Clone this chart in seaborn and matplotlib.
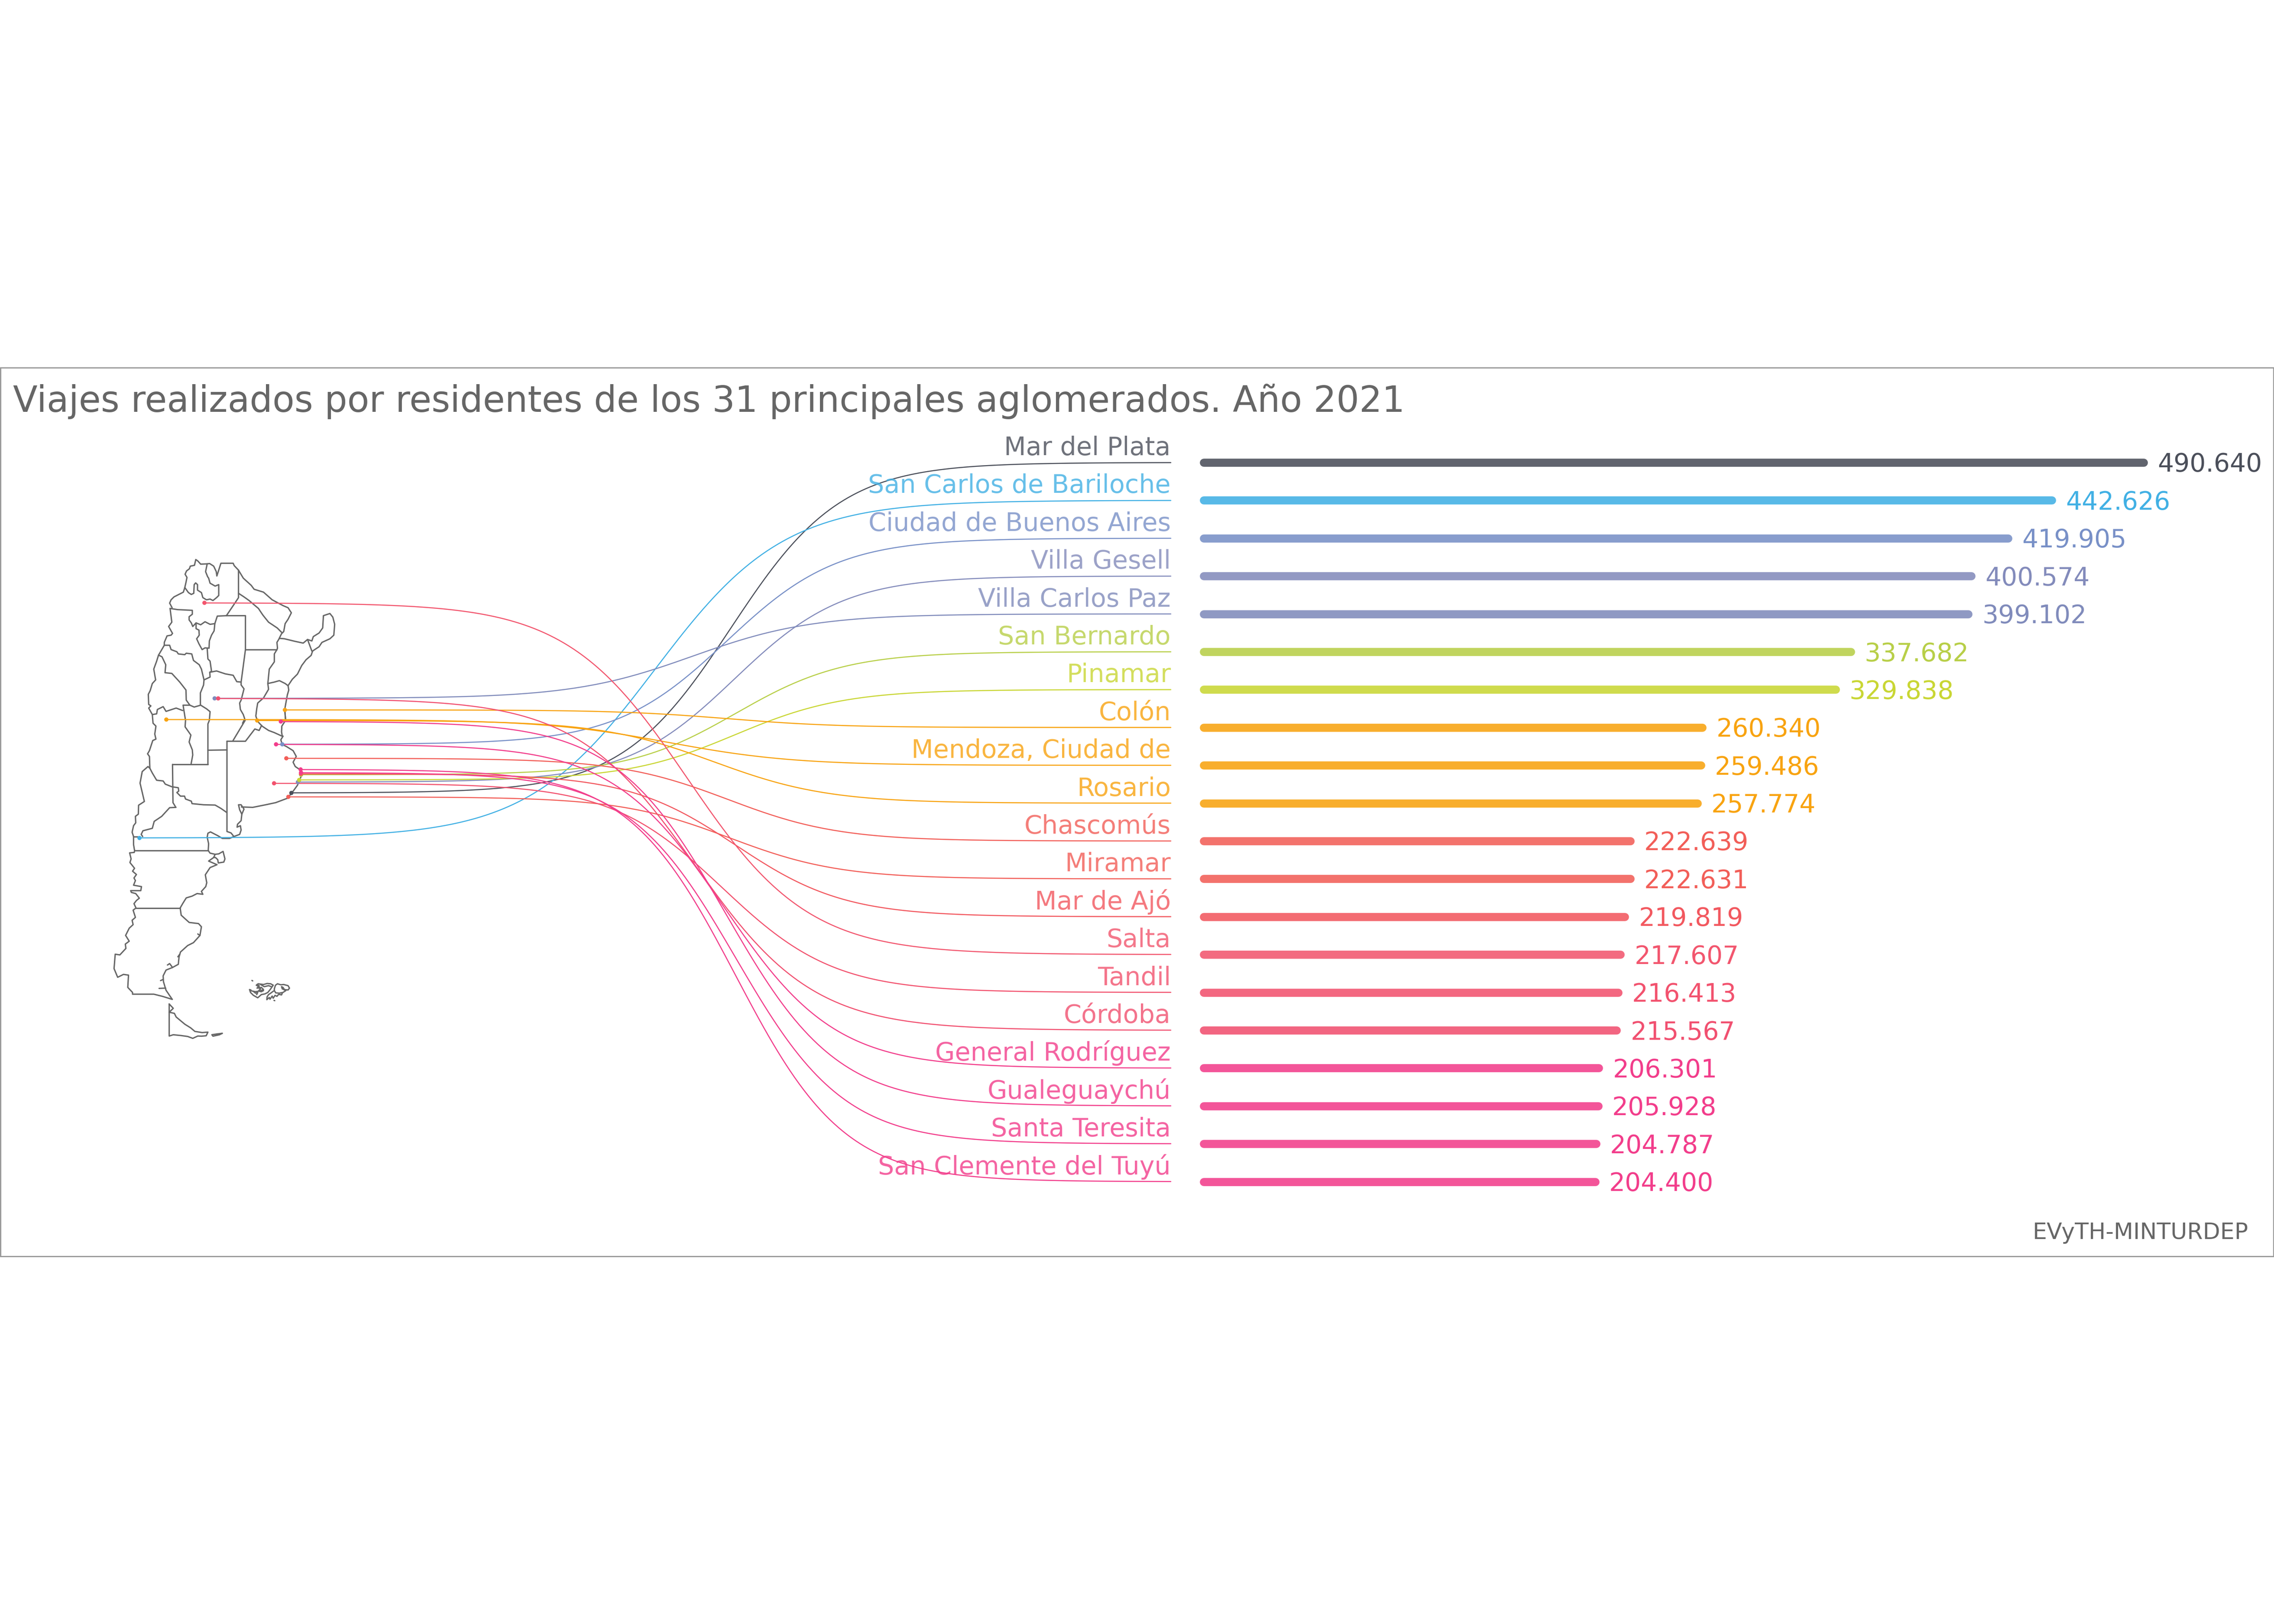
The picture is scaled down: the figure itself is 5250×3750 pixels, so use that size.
import numpy as np
import pandas as pd
import matplotlib
matplotlib.use('Agg')
import matplotlib.pyplot as plt
from matplotlib.patches import Rectangle
import seaborn as sns

# chart values
AGLOMERADOS = ['Mar del Plata', 'San Carlos de Bariloche', 'Ciudad de Buenos Aires', 'Villa Gesell',
               'Villa Carlos Paz', 'San Bernardo', 'Pinamar', 'Colón', 'Mendoza, Ciudad de', 'Rosario',
               'Chascomús', 'Miramar', 'Mar de Ajó', 'Salta', 'Tandil', 'Córdoba', 'General Rodríguez',
               'Gualeguaychú', 'Santa Teresita', 'San Clemente del Tuyú']
VIAJES = [490640, 442626, 419905, 400574, 399102, 337682, 329838, 260340, 259486, 257774,
          222639, 222631, 219819, 217607, 216413, 215567, 206301, 205928, 204787, 204400]
COLORES = ['#4b4f5a', '#41b0e4', '#7890c7', '#838bbb', '#808bbb', '#b8cf48', '#c9d634', '#f8a310', '#f8a310',
           '#f8a310', '#f25e58', '#f25e58', '#f2585f', '#f2566e', '#f2526e', '#f15070', '#f23d8b', '#f23d8b',
           '#f23d8b', '#f23d8b']
# where each city sits on the map, picture pixels
CIUDAD_X = [672.7, 322, 651.7, 687.7, 495.5, 695, 690.7, 657.7, 384, 593.7,
            661, 665.7, 695, 472, 632.7, 503.7, 637.3, 648.3, 695, 694]
CIUDAD_Y = [1831, 1935, 1718.7, 1806, 1612.6, 1789, 1801, 1639.3, 1661.5, 1663.7,
            1751, 1840, 1787, 1392, 1808.7, 1612.7, 1718.7, 1666, 1784, 1776.7]

TITULO = 'Viajes realizados por residentes de los 31 principales aglomerados. Año 2021'
FUENTE = 'EVyTH-MINTURDEP'

# map outlines, one list per traced crop
MAPA_NORTE = [
    [(380,260),(388,225),(395,190),(382,168),(392,145),(412,130),(418,112),(447,106),(456,66),(470,76),(490,98),(535,96),(552,94),(580,112),(598,150),(602,180),(630,92),(715,92),(722,108),(752,140)],
    [(752,140),(752,300),(752,330),(722,375),(668,455)],
    [(535,96),(524,150),(538,185),(545,195),(555,230),(590,250),(615,240),(615,315),(600,330),(575,350),(555,340),(530,345),(505,330),(495,295),(468,278),(468,240),(455,228),(445,240),(442,300),(425,308),(405,295),(380,260)],
    [(380,260),(370,292),(305,325),(285,345),(275,368),(292,400)],
    [(278,405),(330,413),(432,418),(432,445),(410,462),(410,485),(425,505),(435,530),(458,505),(490,518),(520,497),(555,515),(588,510)],
    [(668,455),(605,458),(588,510),(583,560),(565,590),(550,630),(548,680),(520,678),(500,690),(478,650),(462,615),(480,590),(478,555),(458,545),(458,505)],
    [(278,405),(290,500),(268,530),(295,578),(285,590),(257,595),(238,640),(238,660)],
    [(238,660),(275,660),(285,690),(325,705),(335,720),(380,725),(390,715),(428,720),(440,765),(480,795),(495,825),(513,900)],
    [(535,680),(540,755),(555,770),(565,840),(553,847)],
    [(553,847),(600,838),(660,858),(715,868),(740,912),(770,915)],
    [(553,847),(555,880),(513,900),(510,935),(488,990),(488,1075)],
    [(668,455),(800,455),(800,690),(770,915),(770,935),(790,962),(770,1040),(760,1060),(765,1105),(785,1140),(795,1170),(780,1200)],
    [(800,690),(1018,690)],
    [(752,140),(785,195),(840,245),(860,272),(925,292),(985,345),(1060,385),(1095,400),(1118,435),(1095,480),(1075,510),(1065,565),(1050,580),(1035,610)],
    [(752,300),(790,325),(825,350),(890,405),(920,450),(960,500),(990,520),(1020,540),(1055,575)],
    [(1035,612),(1070,615),(1140,632),(1200,645),(1230,620),(1260,700)],
    [(1230,620),(1260,630),(1270,600),(1310,575),(1335,540),(1340,455),(1385,440),(1405,465),(1418,515),(1412,590),(1385,615),(1330,640),(1310,670),(1265,700)],
    [(1265,700),(1255,730),(1220,760),(1190,800),(1160,860),(1125,895),(1095,940),(1100,970),(1090,1005),(1080,1060),(1072,1105),(1078,1180)],
    [(1035,612),(1018,640),(1022,680),(1018,690),(1000,720),(1000,775),(965,825),(960,875),(955,925)],
    [(955,925),(1000,915),(1035,905),(1075,925),(1095,940)],
    [(955,925),(960,965),(925,1025),(885,1060),(878,1100),(872,1150),(882,1182)],
    [(200,725),(238,660)],
    [(198,728),(222,740),(248,795),(243,850),(290,855),(345,915),(388,970),(390,1040),(415,1075)],
    [(198,728),(185,770),(165,825),(178,900),(155,925),(140,975),(127,1000),(130,1070),(145,1080),(130,1095),(155,1140),(185,1135),(190,1105),(230,1085),(250,1118),(320,1095),(365,1112)],
]
MAPA_CENTRO = [
    [(245,90),(250,150),(270,170),(262,225),(270,260),(248,270),(225,340),(212,362),(225,380),(228,460)],
    [(228,462),(245,495),(275,545),(320,550),(335,572),(380,590),(425,597),(428,620),(415,630),(440,655),(468,655),(475,675),(515,690),(520,707),(600,715),(680,717),(720,740),(760,768)],
    [(505,25),(458,25),(475,130),(472,175),(512,232),(500,280),(522,335),(525,370),(513,435)],
    [(505,25),(535,38),(580,25),(620,50),(645,70),(640,130),(630,155),(630,435)],
    [(385,435),(630,435)],
    [(630,337),(762,335)],
    [(385,435),(388,700),(408,733)],
    [(228,462),(215,450),(175,485),(160,565),(180,650),(190,692),(150,718),(148,780),(128,795),(130,840),(115,860),(105,905),(115,935)],
    [(408,733),(365,735),(310,795),(258,830),(245,878),(180,895),(168,920),(178,935)],
    [(115,935),(150,935)],
    [(115,935),(115,990),(122,1032)],
    [(632,1032),(635,985),(625,940),(630,912),(648,903),(700,930),(730,948),(780,948),(810,935),(850,920),(860,890),(855,860),(832,870),(835,850),(860,825),(865,780),(880,745),(860,715),(842,715),(850,750),(865,780)],
    [(762,275),(762,900),(790,910),(810,935)],
    [(862,730),(940,733),(1030,715),(1100,700),(1180,670),(1210,635),(1250,580),(1275,520),(1272,475),(1235,450),(1220,420),(1242,380),(1220,340),(1175,312),(1145,297),(1135,265),(1150,240)],
    [(968,130),(1005,170),(1050,200),(1090,215),(1140,238),(1150,240)],
    [(1163,60),(1168,130),(1142,170),(1140,210),(1145,240)],
    [(762,275),(890,275),(955,190),(985,200),(1002,165)],
    [(888,130),(803,272)],
]
MAPA_SUR = [
    [(272,42),(782,42)],
    [(272,42),(270,55),(238,58),(248,100),(240,125),(272,165),(258,185),(285,208),(268,232),(278,250),(265,282),(320,292),(315,320),(245,320),(250,332),(280,340),(305,372),(285,388),(268,410),(282,440)],
    [(782,42),(795,60),(830,68),(820,90),(785,115),(843,140),(795,160),(762,210),(772,265),(765,292),(735,325),(745,345),(705,340),(670,358),(630,370),(605,410),(588,440)],
    [(830,68),(855,65),(885,48),(898,100),(890,122),(852,128),(848,105),(832,90),(820,90)],
    [(282,440),(588,440)],
    [(282,440),(262,455),(278,505),(255,525),(262,555),(235,580),(210,630),(235,670),(208,690),(212,720),(170,765),(138,760),(130,860),(155,920),(195,900),(230,905),(225,990),(258,1025),(258,1037),(405,1037),(465,1052),(533,1073)],
    [(588,440),(595,490),(650,540),(715,548),(735,570),(725,630),(680,680),(640,700),(590,745),(580,780),(575,830),(535,852),(490,870),(470,910),(472,950),(490,1010),(533,1073)],
    [(535,852),(515,825),(500,835)],
    [(470,935),(452,943)],
    [(487,995),(442,997)],
    [(585,760),(572,778)],
    [(710,620),(725,630)],
    [(512,1105),(540,1135),(512,1162),(548,1170),(560,1195),(620,1245),(660,1270),(690,1295),(740,1303),(780,1300),(768,1325),(735,1328),(710,1327),(675,1343),(640,1330),(590,1323),(540,1318),(512,1327),(512,1105)],
    [(808,1318),(840,1313),(880,1308),(860,1318),(815,1328),(808,1318)],
    # Malvinas
    [(1240,1000),(1248,975),(1262,965),(1285,972),(1305,970),(1335,978),(1345,995),(1335,1008),(1310,1005),(1300,990),(1290,985),(1295,1000),(1320,1012),(1300,1025),(1275,1030),(1250,1028),(1240,1012),(1240,1000)],
    [(1232,975),(1215,965),(1190,963),(1165,970),(1150,968),(1128,965),(1115,975),(1135,985),(1120,995),(1150,990),(1165,1005),(1140,1015),(1110,1020),(1085,1015),(1070,1010),(1075,1025),(1095,1045),(1125,1062),(1150,1040),(1175,1035),(1195,1025),(1215,1000),(1232,975)],
    [(1120,970),(1135,978),(1125,990),(1145,1000),(1130,1015),(1150,1020),(1165,1012)],
    [(1145,970),(1170,985),(1200,978),(1220,985)],
    [(1095,1018),(1110,1030),(1125,1025),(1118,1040)],
    [(1235,1015),(1215,1030),(1200,1040),(1190,1055),(1188,1075),(1205,1060),(1210,1072),(1225,1050),(1232,1065),(1245,1045),(1258,1052),(1270,1038),(1290,1042),(1295,1030)],
    [(1238,1080),(1243,1082)],
    [(1068,1005),(1078,1008)],
    [(1085,942),(1090,945)],
]

GRIS = '#666666'
X_LINEA_FIN = 2703
Y_PRIMERA = 1068
Y_PASO = 87.4
PX_POR_VIAJE = 0.004423
X_CERO = 2779


def dibujar_mapa(ax, trazos, x0, y0):
    for trazo in trazos:
        puntos = np.array(trazo, dtype=float)
        ax.plot(x0 + puntos[:, 0] / 3, y0 + puntos[:, 1] / 3, color=GRIS, lw=0.75,
                solid_joinstyle='round', zorder=1)


def sigmoide(x_desde, x_hasta, y_desde, y_hasta, suave=8, n=200):
    t = np.linspace(-suave, suave, n)
    s = np.exp(t) / (np.exp(t) + 1)
    return np.interp(t, [-suave, suave], [x_desde, x_hasta]), y_desde + (y_hasta - y_desde) * s


sns.set_theme(style='white')
plt.rcParams['font.family'] = ['DejaVu Sans']

fig = plt.figure(figsize=(17.5, 12.5), dpi=300)
ax = fig.add_axes([0, 0, 1, 1])
ax.set_xlim(0, 5250)
ax.set_ylim(3750, 0)
ax.axis('off')

ax.add_patch(Rectangle((1, 849), 5248, 2052, fill=False, edgecolor='#999999', lw=0.7))

dibujar_mapa(ax, MAPA_NORTE, 300, 1270)
dibujar_mapa(ax, MAPA_CENTRO, 270, 1620)
dibujar_mapa(ax, MAPA_SUR, 220, 1950)

paleta = dict(zip(AGLOMERADOS, COLORES))

# connectors from each city to its row
for i, nombre in enumerate(AGLOMERADOS):
    y_fila = Y_PRIMERA + i * Y_PASO
    xs, ys = sigmoide(CIUDAD_X[i], X_LINEA_FIN, CIUDAD_Y[i], y_fila)
    ax.plot(xs, ys, color=paleta[nombre], lw=0.6, zorder=2)
    ax.text(X_LINEA_FIN, y_fila - 17, nombre, color=paleta[nombre], alpha=0.8, fontsize=14.1,
            ha='right', va='baseline', zorder=4)
    ax.text(X_CERO + PX_POR_VIAJE * VIAJES[i] + 32, y_fila + 21.5, f'{VIAJES[i]:,}'.replace(',', '.'),
            color=paleta[nombre], fontsize=14, ha='left', va='baseline', zorder=4)

ciudades = pd.DataFrame({'aglomerado': AGLOMERADOS, 'x': CIUDAD_X, 'y': CIUDAD_Y})
sns.scatterplot(data=ciudades, x='x', y='y', hue='aglomerado', palette=paleta, s=5.5, linewidth=0,
                legend=False, ax=ax, zorder=3)
ax.set_xlim(0, 5250)
ax.set_ylim(3750, 0)

ax.text(30, 951, TITULO, color=GRIS, fontsize=19.9, ha='left', va='baseline')
ax.text(5191, 2861, FUENTE, color=GRIS, fontsize=12.5, ha='right', va='baseline')

# bars as thick round lines on a value axis
ax_barras = fig.add_axes([X_CERO / 5250, 0, 1 - X_CERO / 5250, 1])
ax_barras.patch.set_alpha(0)
barras = pd.DataFrame({'aglomerado': AGLOMERADOS * 2,
                       'viajes': [0] * len(VIAJES) + VIAJES,
                       'fila': list(range(len(VIAJES))) * 2})
sns.lineplot(data=barras, x='viajes', y='fila', hue='aglomerado', palette=paleta, units='aglomerado',
             estimator=None, sort=False, orient='y', linewidth=4.5, alpha=0.88, solid_capstyle='round',
             legend=False, clip_on=False, ax=ax_barras)
ax_barras.set_xlim(0, (5250 - X_CERO) / PX_POR_VIAJE)
ax_barras.set_ylim((3750 - Y_PRIMERA) / Y_PASO, -Y_PRIMERA / Y_PASO)
ax_barras.axis('off')

fig.savefig('out.png', dpi=300)
